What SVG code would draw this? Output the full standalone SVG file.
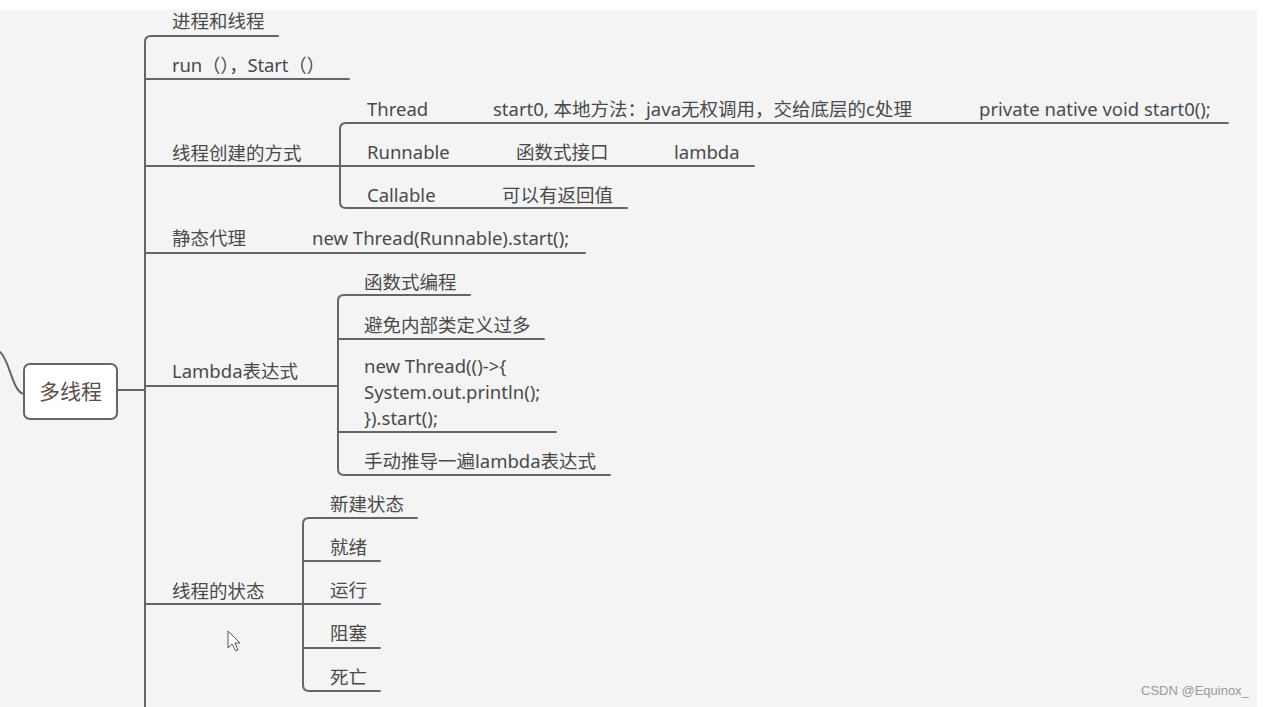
<svg xmlns="http://www.w3.org/2000/svg" width="1263" height="707" viewBox="0 0 1263 707">
<style>
.bg{fill:#f4f4f4}
.ln{fill:none;stroke:#666;stroke-width:2;stroke-linecap:round;stroke-linejoin:round}
.t{font-family:"Noto Sans","Noto Sans CJK SC",sans-serif;font-size:18.5px;fill:#4a4a4a}
.root{fill:#fff;stroke:#666;stroke-width:2}
.rt{font-family:"Noto Sans CJK SC","Noto Sans",sans-serif;font-size:21px;fill:#5a5048}
.wm{font-family:"Liberation Sans",Arial,sans-serif;font-size:13px;fill:#999}
</style>
<rect x="0" y="0" width="1263" height="707" fill="#ffffff"/>
<rect class="bg" x="0" y="10" width="1257" height="697"/>
<g id="connectors">
<path class="ln" d="M0,352 C10,360 12,392 24,394"/>
<path class="ln" d="M117,390 H145"/>
<path class="ln" d="M145,707 V42 Q145,36 151,36 H278"/>
<path class="ln" d="M145,79 H349"/>
<path class="ln" d="M145,166 H340"/>
<path class="ln" d="M145,253 H585"/>
<path class="ln" d="M145,386 H338"/>
<path class="ln" d="M145,604 H303"/>
<path class="ln" d="M340,166 V129 Q340,123 346,123 H1228"/>
<path class="ln" d="M340,166 V202 Q340,208 346,208 H627"/>
<path class="ln" d="M340,166 H754"/>
<path class="ln" d="M338,386 V301 Q338,295 344,295 H470"/>
<path class="ln" d="M338,339 H544"/>
<path class="ln" d="M338,386 V469 Q338,475 344,475 H610"/>
<path class="ln" d="M338,432 H556"/>
<path class="ln" d="M303,604 V524 Q303,518 309,518 H417"/>
<path class="ln" d="M303,561 H380"/>
<path class="ln" d="M303,604 H380"/>
<path class="ln" d="M303,648 H380"/>
<path class="ln" d="M303,604 V685 Q303,691 309,691 H380"/>
</g>
<g id="root">
<rect class="root" x="24" y="364" width="93" height="55" rx="6"/>
<text class="rt" x="70.5" y="399" text-anchor="middle">多线程</text>
</g>
<g id="n-jincheng"><text class="t" x="172" y="28">进程和线程</text></g>
<g id="n-run"><text class="t" x="172" y="72" textLength="153" lengthAdjust="spacing">run（），Start（）</text></g>
<g id="n-create"><text class="t" x="172" y="160">线程创建的方式</text></g>
<g id="n-thread">
<text class="t" x="367" y="116">Thread</text>
<text class="t" x="493" y="116">start0, 本地方法：java无权调用，交给底层的c处理</text>
<text class="t" x="979" y="116">private native void start0();</text>
</g>
<g id="n-runnable">
<text class="t" x="367" y="159">Runnable</text>
<text class="t" x="516" y="159">函数式接口</text>
<text class="t" x="674" y="159">lambda</text>
</g>
<g id="n-callable">
<text class="t" x="367" y="202">Callable</text>
<text class="t" x="502" y="202">可以有返回值</text>
</g>
<g id="n-static">
<text class="t" x="172" y="245">静态代理</text>
<text class="t" x="312" y="245">new Thread(Runnable).start();</text>
</g>
<g id="n-lambda"><text class="t" x="172" y="378">Lambda表达式</text></g>
<g id="n-fp"><text class="t" x="364" y="289">函数式编程</text></g>
<g id="n-avoid"><text class="t" x="364" y="332">避免内部类定义过多</text></g>
<g id="n-code">
<text class="t" x="364" y="373">new Thread(()-&gt;{</text>
<text class="t" x="364" y="399">System.out.println();</text>
<text class="t" x="364" y="425">}).start();</text>
</g>
<g id="n-manual"><text class="t" x="364" y="468">手动推导一遍lambda表达式</text></g>
<g id="n-state"><text class="t" x="172" y="598">线程的状态</text></g>
<g id="n-new"><text class="t" x="330" y="511">新建状态</text></g>
<g id="n-ready"><text class="t" x="330" y="554">就绪</text></g>
<g id="n-run2"><text class="t" x="330" y="597">运行</text></g>
<g id="n-block"><text class="t" x="330" y="640">阻塞</text></g>
<g id="n-dead"><text class="t" x="330" y="684">死亡</text></g>
<path d="M228,631 L228,648 L232,644 L236,651 L238,650 L235,643 L240,643 Z" fill="#fff" stroke="#555" stroke-width="1"/>
<text class="wm" x="1141" y="695">CSDN @Equinox_</text>
</svg>
